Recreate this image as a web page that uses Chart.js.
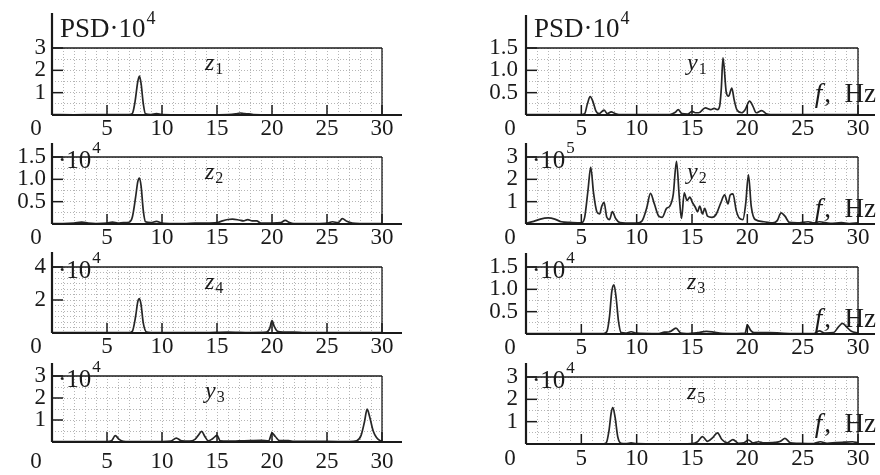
<!DOCTYPE html>
<html><head><meta charset="utf-8">
<script src="https://cdn.jsdelivr.net/npm/chart.js@4.4.1/dist/chart.umd.min.js"></script>
<style>
html,body{margin:0;padding:0;background:#fff;}
#wrap{position:relative;width:880px;height:475px;overflow:hidden;background:#fff;}
canvas{position:absolute;}
</style></head><body><div id="wrap"></div>
<script>
// ---------- DATA ----------
const xTickLabels = [5, 10, 15, 20, 25, 30];

const z1Hz  = [0, 2, 4, 6, 7, 7.3, 7.55, 7.8, 7.95, 8.1, 8.3, 8.5, 9, 9.5, 10, 12, 14, 16, 16.7, 17.1, 17.5, 17.9, 18.3, 20, 22, 25, 28, 30];
const z1Psd = [0.02, 0.01, 0.02, 0.02, 0.02, 0.06, 0.6, 1.5, 1.74, 1.4, 0.5, 0.05, 0.02, 0.06, 0.02, 0.01, 0.01, 0.02, 0.05, 0.09, 0.06, 0.05, 0.02, 0.01, 0.01, 0.01, 0.01, 0.01];

const z2Hz  = [0, 1, 2, 2.7, 3.3, 4, 5, 5.5, 6, 6.5, 7, 7.3, 7.6, 7.8, 7.95, 8.1, 8.3, 8.5, 9, 9.5, 10, 11, 12, 13, 14, 15, 15.5, 16, 16.4, 17, 17.4, 17.8, 18.2, 18.6, 19, 20, 20.8, 21.2, 21.6, 22, 23, 24, 25, 25.5, 26, 26.4, 26.8, 27.3, 28, 30];
const z2Psd = [0.01, 0.01, 0.02, 0.04, 0.02, 0.01, 0.02, 0.04, 0.02, 0.03, 0.04, 0.15, 0.6, 0.95, 1.03, 0.85, 0.3, 0.05, 0.03, 0.06, 0.02, 0.01, 0.01, 0.02, 0.02, 0.03, 0.07, 0.1, 0.11, 0.09, 0.07, 0.1, 0.07, 0.07, 0.02, 0.02, 0.03, 0.08, 0.03, 0.01, 0.01, 0.01, 0.02, 0.05, 0.03, 0.12, 0.06, 0.02, 0.01, 0.01];

const z4Hz  = [0, 2, 4, 6, 7, 7.3, 7.6, 7.8, 7.95, 8.1, 8.3, 8.6, 9, 10, 12, 14, 16, 18, 19.5, 19.8, 20, 20.2, 20.5, 21, 22, 23, 25, 28, 30];
const z4Psd = [0.02, 0.02, 0.02, 0.02, 0.02, 0.1, 1.0, 1.9, 2.08, 1.7, 0.6, 0.05, 0.02, 0.02, 0.02, 0.03, 0.06, 0.03, 0.05, 0.3, 0.75, 0.4, 0.1, 0.06, 0.06, 0.02, 0.02, 0.02, 0.02];

const y3Hz  = [0, 2, 4, 5, 5.4, 5.75, 6.1, 6.5, 7, 8, 9, 10, 10.8, 11.3, 11.8, 12.5, 13, 13.3, 13.6, 13.9, 14.2, 14.6, 15, 15.3, 16, 17, 18, 19, 19.7, 20, 20.3, 20.7, 21.5, 22, 24, 26, 27, 27.7, 28.1, 28.4, 28.65, 28.9, 29.2, 29.5, 29.8, 30];
const y3Psd = [0.02, 0.02, 0.02, 0.02, 0.05, 0.29, 0.12, 0.03, 0.02, 0.02, 0.02, 0.02, 0.04, 0.18, 0.05, 0.04, 0.12, 0.3, 0.48, 0.25, 0.05, 0.15, 0.3, 0.05, 0.04, 0.05, 0.06, 0.07, 0.05, 0.4, 0.25, 0.06, 0.06, 0.03, 0.03, 0.02, 0.02, 0.06, 0.3, 0.9, 1.49, 1.1, 0.5, 0.2, 0.07, 0.05];

const y1Hz  = [0, 2, 4, 5, 5.3, 5.55, 5.8, 6.05, 6.3, 6.6, 7.05, 7.35, 7.7, 8.0, 8.4, 9, 10, 12, 13, 13.5, 13.75, 14.1, 14.6, 15.0, 15.3, 15.6, 16.2, 16.7, 17.0, 17.3, 17.5, 17.65, 17.8, 18.1, 18.3, 18.6, 18.8, 19.05, 19.5, 19.8, 20.2, 20.5, 20.8, 21.3, 21.7, 22.1, 23, 25, 27, 30];
const y1Psd = [0.01, 0.01, 0.01, 0.01, 0.03, 0.25, 0.41, 0.3, 0.1, 0.03, 0.11, 0.03, 0.07, 0.04, 0.01, 0.01, 0.01, 0.01, 0.01, 0.06, 0.12, 0.03, 0.02, 0.08, 0.05, 0.05, 0.16, 0.12, 0.15, 0.12, 0.2, 0.6, 1.28, 0.5, 0.42, 0.6, 0.35, 0.12, 0.05, 0.12, 0.31, 0.2, 0.05, 0.1, 0.03, 0.01, 0.01, 0.01, 0.01, 0.01];

const y2Hz  = [0, 0.7, 1.3, 2, 2.6, 3.2, 4, 5, 5.3, 5.6, 5.85, 6.1, 6.4, 6.65, 6.85, 7.05, 7.3, 7.55, 7.8, 8.1, 8.5, 9, 10, 10.5, 10.9, 11.25, 11.6, 12, 12.3, 12.7, 13, 13.3, 13.6, 13.85, 14.05, 14.3, 14.55, 14.8, 15.05, 15.3, 15.5, 15.7, 15.95, 16.15, 16.4, 16.8, 17.2, 17.6, 17.95, 18.25, 18.45, 18.7, 19, 19.3, 19.6, 19.85, 20.1, 20.35, 20.7, 21.5, 22.3, 22.7, 23.05, 23.4, 23.8, 24.5, 25.5, 26, 26.5, 27.5, 28.5, 29.2, 30];
const y2Psd = [0.03, 0.12, 0.22, 0.27, 0.22, 0.1, 0.07, 0.05, 0.3, 1.5, 2.55, 1.4, 0.55, 0.45, 0.8, 0.97, 0.3, 0.2, 0.55, 0.25, 0.06, 0.04, 0.04, 0.15, 0.7, 1.37, 0.9, 0.35, 0.3, 0.7, 0.8, 1.3, 2.8, 1.2, 0.25, 1.4, 1.05, 1.2, 0.95, 0.75, 0.55, 0.8, 0.45, 0.7, 0.35, 0.3, 0.45, 0.95, 1.3, 0.9, 1.3, 1.35, 0.6, 0.25, 0.2, 0.9, 2.2, 0.8, 0.2, 0.1, 0.05, 0.15, 0.5, 0.35, 0.07, 0.05, 0.1, 0.05, 0.1, 0.03, 0.06, 0.02, 0.05];

const z3Hz  = [0, 3, 5, 7, 7.3, 7.55, 7.75, 7.95, 8.15, 8.35, 8.6, 9, 9.5, 10, 12, 12.5, 13, 13.55, 14, 14.5, 15.5, 16.3, 17, 17.5, 19, 19.8, 20, 20.3, 20.6, 21, 22, 24, 26, 26.5, 27, 27.8, 28.2, 28.6, 29, 29.4, 30];
const z3Psd = [0.01, 0.01, 0.01, 0.01, 0.05, 0.4, 0.95, 1.1, 0.8, 0.3, 0.03, 0.02, 0.05, 0.02, 0.01, 0.04, 0.05, 0.13, 0.02, 0.01, 0.03, 0.06, 0.04, 0.02, 0.01, 0.02, 0.2, 0.08, 0.03, 0.03, 0.03, 0.01, 0.01, 0.07, 0.02, 0.03, 0.15, 0.24, 0.15, 0.06, 0.02];

const z5Hz  = [0, 3, 5, 7, 7.25, 7.5, 7.7, 7.85, 8.05, 8.3, 8.6, 9, 9.5, 10, 12, 14, 15, 15.5, 15.95, 16.4, 16.9, 17.3, 17.7, 18.2, 18.7, 19.2, 19.7, 20.1, 20.5, 21, 21.5, 22.5, 23, 23.4, 23.9, 24.5, 26, 26.6, 27.2, 28, 28.7, 29.5, 30];
const z5Psd = [0.01, 0.01, 0.01, 0.01, 0.05, 0.6, 1.4, 1.63, 1.2, 0.3, 0.03, 0.02, 0.05, 0.02, 0.01, 0.01, 0.02, 0.1, 0.33, 0.12, 0.3, 0.5, 0.2, 0.05, 0.2, 0.03, 0.05, 0.18, 0.05, 0.1, 0.05, 0.07, 0.12, 0.25, 0.05, 0.03, 0.02, 0.1, 0.03, 0.06, 0.08, 0.1, 0.05];

const yTicksZ1 = [1, 2, 3];
const yTicksZ2 = [0.5, 1.0, 1.5];
const yTicksZ4 = [2, 4];
const yTicksY3 = [1, 2, 3];
const yTicksY1 = [0.5, 1.0, 1.5];
const yTicksY2 = [1, 2, 3];
const yTicksZ3 = [0.5, 1.0, 1.5];
const yTicksZ5 = [1, 2, 3];

const seriesNames = ['z1', 'z2', 'z4', 'y3', 'y1', 'y2', 'z3', 'z5'];
const exponents   = ['4', '4', '4', '4', '4', '5', '4', '4'];

// ---------- LAYOUT / STYLE ----------
const FONT = '"Liberation Serif","Times New Roman",serif';
const INK = '#1a1a1a';
const panels = [
  {hz: z1Hz, v: z1Psd, yt: yTicksZ1, col: 0, top: 48,  bottom: 115, div: 6,  first: true,  yExt: 35, xpad: 0, nameOff: 153},
  {hz: z2Hz, v: z2Psd, yt: yTicksZ2, col: 0, top: 157, bottom: 224, div: 6,  first: false, yExt: 14, xpad: 0, nameOff: 153},
  {hz: z4Hz, v: z4Psd, yt: yTicksZ4, col: 0, top: 267, bottom: 333, div: 12, first: false, yExt: 15, xpad: 0, nameOff: 153},
  {hz: y3Hz, v: y3Psd, yt: yTicksY3, col: 0, top: 376, bottom: 442, div: 6,  first: false, yExt: 13, xpad: 6, nameOff: 153},
  {hz: y1Hz, v: y1Psd, yt: yTicksY1, col: 1, top: 48,  bottom: 115, div: 6,  first: true,  yExt: 33, xpad: 0, nameOff: 161, fOff: 13},
  {hz: y2Hz, v: y2Psd, yt: yTicksY2, col: 1, top: 157, bottom: 224, div: 6,  first: false, yExt: 14, xpad: 0, nameOff: 161, fOff: 7},
  {hz: z3Hz, v: z3Psd, yt: yTicksZ3, col: 1, top: 267, bottom: 334, div: 6,  first: false, yExt: 14, xpad: 0, nameOff: 161, fOff: 7},
  {hz: z5Hz, v: z5Psd, yt: yTicksZ5, col: 1, top: 377, bottom: 444, div: 6,  first: false, yExt: 14, xpad: 1, nameOff: 161, fOff: 12}
];

const deco = {
  id: 'deco',
  afterDraw(chart, args, opts) {
    const p = opts.p, idx = opts.idx;
    const ctx = chart.ctx, a = chart.chartArea, xs = chart.scales.x, ys = chart.scales.y;
    const line = (x1, y1, x2, y2) => { ctx.beginPath(); ctx.moveTo(x1, y1); ctx.lineTo(x2, y2); ctx.stroke(); };
    ctx.save();
    ctx.strokeStyle = INK;
    ctx.lineWidth = 1.6; line(a.left, a.top, a.right, a.top);
    ctx.lineWidth = 1.3; line(a.right, a.top, a.right, a.bottom);
    ctx.lineWidth = 2.2;
    line(a.left, a.bottom, a.right + (p.col ? 17 : 20), a.bottom);
    line(a.left, a.top - p.yExt, a.left, a.bottom);
    ctx.lineWidth = 1.5;
    xTickLabels.forEach(t => { const X = xs.getPixelForValue(t); line(X, a.bottom, X, a.bottom - 10); });
    p.yt.forEach(t => { const Y = ys.getPixelForValue(t); line(a.left, Y, a.left + 11, Y); });
    ctx.fillStyle = INK;
    // origin label
    ctx.font = '23px ' + FONT; ctx.textAlign = 'center'; ctx.textBaseline = 'middle';
    ctx.fillText('0', a.left - 16, a.bottom + p.xpad + 14);
    ctx.textAlign = 'left'; ctx.textBaseline = 'alphabetic';
    // multiplier
    if (p.first) {
      ctx.font = '27px ' + FONT;
      const s = 'PSD·10'; const x0 = a.left + 8;
      ctx.fillText(s, x0, a.top - 11);
      const w = ctx.measureText(s).width;
      ctx.font = '18px ' + FONT; ctx.fillText(exponents[idx], x0 + w + 1, a.top - 24);
    } else {
      ctx.font = '25px ' + FONT;
      const s = '·10'; const x0 = a.left + 6;
      ctx.fillText(s, x0, a.top + 11);
      const w = ctx.measureText(s).width;
      ctx.font = '17px ' + FONT; ctx.fillText(exponents[idx], x0 + w + 1, a.top - 4);
    }
    // series name
    const nm = seriesNames[idx];
    ctx.font = 'italic 24px ' + FONT;
    const nx = a.left + p.nameOff;
    ctx.fillText(nm[0], nx, a.top + 22);
    const nw = ctx.measureText(nm[0]).width;
    ctx.font = '16px ' + FONT; ctx.fillText(nm.slice(1), nx + nw + 1, a.top + 26);
    // f, Hz
    if (p.col === 1) {
      ctx.font = '27px ' + FONT;
      const rest = ',  Hz'; const wr = ctx.measureText(rest).width;
      const xr = a.right + 18;
      ctx.fillText(rest, xr - wr, a.bottom - p.fOff);
      ctx.font = 'italic 27px ' + FONT;
      const wf = ctx.measureText('f').width;
      ctx.fillText('f', xr - wr - wf - 2, a.bottom - p.fOff);
    }
    ctx.restore();
  }
};

const wrap = document.getElementById('wrap');
panels.forEach((p, idx) => {
  const h = (p.bottom - p.top) + 40 + 32;
  const c = document.createElement('canvas');
  c.width = 440; c.height = h;
  c.style.left = (p.col * 440) + 'px'; c.style.top = (p.top - 40) + 'px';
  c.style.width = '440px'; c.style.height = h + 'px';
  wrap.appendChild(c);
  const ymax = p.yt[p.yt.length - 1];
  const dec = p.yt.some(t => t % 1 !== 0) ? 1 : 0;
  const isMajor = v => p.yt.some(t => Math.abs(t - v) < 1e-6);
  new Chart(c, {
    type: 'line',
    data: { datasets: [{
      data: p.hz.map((x, i) => ({x: x, y: p.v[i]})),
      borderColor: '#262626', borderWidth: 1.7, pointRadius: 0, fill: false,
      cubicInterpolationMode: 'monotone', clip: 2
    }]},
    options: {
      responsive: false, animation: false, devicePixelRatio: 1,
      layout: { padding: { top: 40, left: 0, right: p.col ? 22 : 58, bottom: 0 } },
      plugins: { legend: {display: false}, tooltip: {enabled: false}, deco: {p: p, idx: idx} },
      scales: {
        x: {
          type: 'linear', min: 0, max: 30,
          afterFit: s => { s.height = 32; },
          ticks: { stepSize: 1, autoSkip: false, maxRotation: 0, padding: p.xpad, color: INK,
                   font: {family: FONT, size: 23},
                   callback: v => (xTickLabels.includes(v) ? String(v) : '') },
          grid: { color: '#b5b5b5', lineWidth: 1, drawTicks: false },
          border: { display: false, dash: [1, 2] }
        },
        y: {
          type: 'linear', min: 0, max: ymax,
          afterFit: s => { s.width = p.col ? 86 : 52; },
          ticks: { stepSize: ymax / p.div, autoSkip: false, padding: p.col ? 8 : 6, color: INK,
                   font: {family: FONT, size: 23},
                   callback: v => (isMajor(v) ? v.toFixed(dec) : '') },
          grid: { color: '#b5b5b5', lineWidth: 1, drawTicks: false },
          border: { display: false, dash: [1, 2] }
        }
      }
    },
    plugins: [deco]
  });
});
</script>
</body></html>
